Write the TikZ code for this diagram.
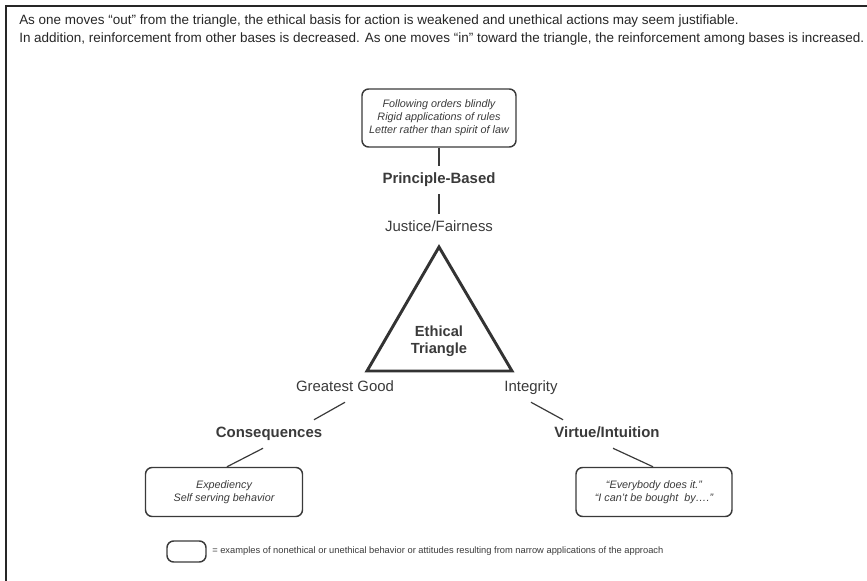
\documentclass[tikz,border=0pt]{standalone}
\usepackage{fontspec}
\setmainfont{Liberation Sans}
\usetikzlibrary{positioning}
\definecolor{ink}{HTML}{3A3A3A}

\begin{document}
\begin{tikzpicture}[x=0.75pt, y=-0.75pt,
  lab/.style = {text=ink, inner sep=5.25pt, text height=8.2pt, text depth=2.3pt,
                font=\fontsize{11.2}{13}\selectfont},
  base/.style = {lab, font=\fontsize{11.2}{13}\selectfont\bfseries},
  ex/.style = {draw=ink, line width=1.1pt, rounded corners=5pt, align=center, text=ink,
               font=\fontsize{8.1}{9.75}\selectfont\itshape},
  link/.style = {draw=ink, line width=0.9pt}]
\useasboundingbox (0,0) rectangle (867,581);
\draw[line width=1.9pt, black!85] (6,581) -- (6,6) -- (867,6);

\node[anchor=west, inner sep=0, align=left, text=black!85,
      font=\fontsize{10.1}{13.5}\selectfont] (head) at (19,30)
  {As one moves “out” from the triangle, the ethical basis for action is weakened and unethical actions may seem justifiable.\\
   In addition, reinforcement from other bases is decreased. As one moves “in” toward the triangle, the reinforcement among bases is increased.};

% principle-based branch
\node[ex, minimum width=115.5pt, minimum height=43.5pt] (box1) at (439,118)
  {Following orders blindly\\Rigid applications of rules\\Letter rather than spirit of law};
\node[base] (pb) at (439,180) {Principle-Based};
\node[lab] (jf) at (439,228) {Justice/Fairness};
\path[link] (box1) -- (pb);
\path[link] (pb) -- (jf);

% the triangle
\draw[draw=black!80, line width=2.2pt, line join=miter] (439,247) -- (367,371) -- (512,371) -- cycle;
\node[base, align=center, text height=, text depth=, font=\fontsize{11}{13}\selectfont\bfseries] (tri) at (439,341) {Ethical\\Triangle};

% lower branches
\node[lab] (gg) at (345,388) {Greatest Good};
\node[lab] (integ) at (531,388) {Integrity};
\node[base] (cons) at (269,434) {Consequences};
\node[base] (virt) at (607,434) {Virtue/Intuition};
\node[ex, minimum width=117.75pt, minimum height=36.75pt] (box2) at (224,492)
  {Expediency\\Self serving behavior};
\node[ex, minimum width=117pt, minimum height=36.75pt] (box3) at (654,492)
  {“Everybody does it.”\\“I can't be bought~~by….”};
\path[link] (gg.south) -- ([xshift=33.75pt]cons.north);
\path[link] (integ.south) -- ([xshift=-33pt]virt.north);
\path[link] ([xshift=-4.5pt]cons.south) -- ([xshift=2.25pt]box2.north);
\path[link] ([xshift=4.5pt]virt.south) -- ([xshift=-0.75pt]box3.north);

% legend
\node[ex, minimum width=29.25pt, minimum height=15.75pt] (key) at (186.5,551.5) {};
\node[anchor=west, inner sep=0, text=ink, font=\fontsize{7}{8}\selectfont] (keytxt) at (212,551)
  {= examples of nonethical or unethical behavior or attitudes resulting from narrow applications of the approach};
\end{tikzpicture}
\end{document}
